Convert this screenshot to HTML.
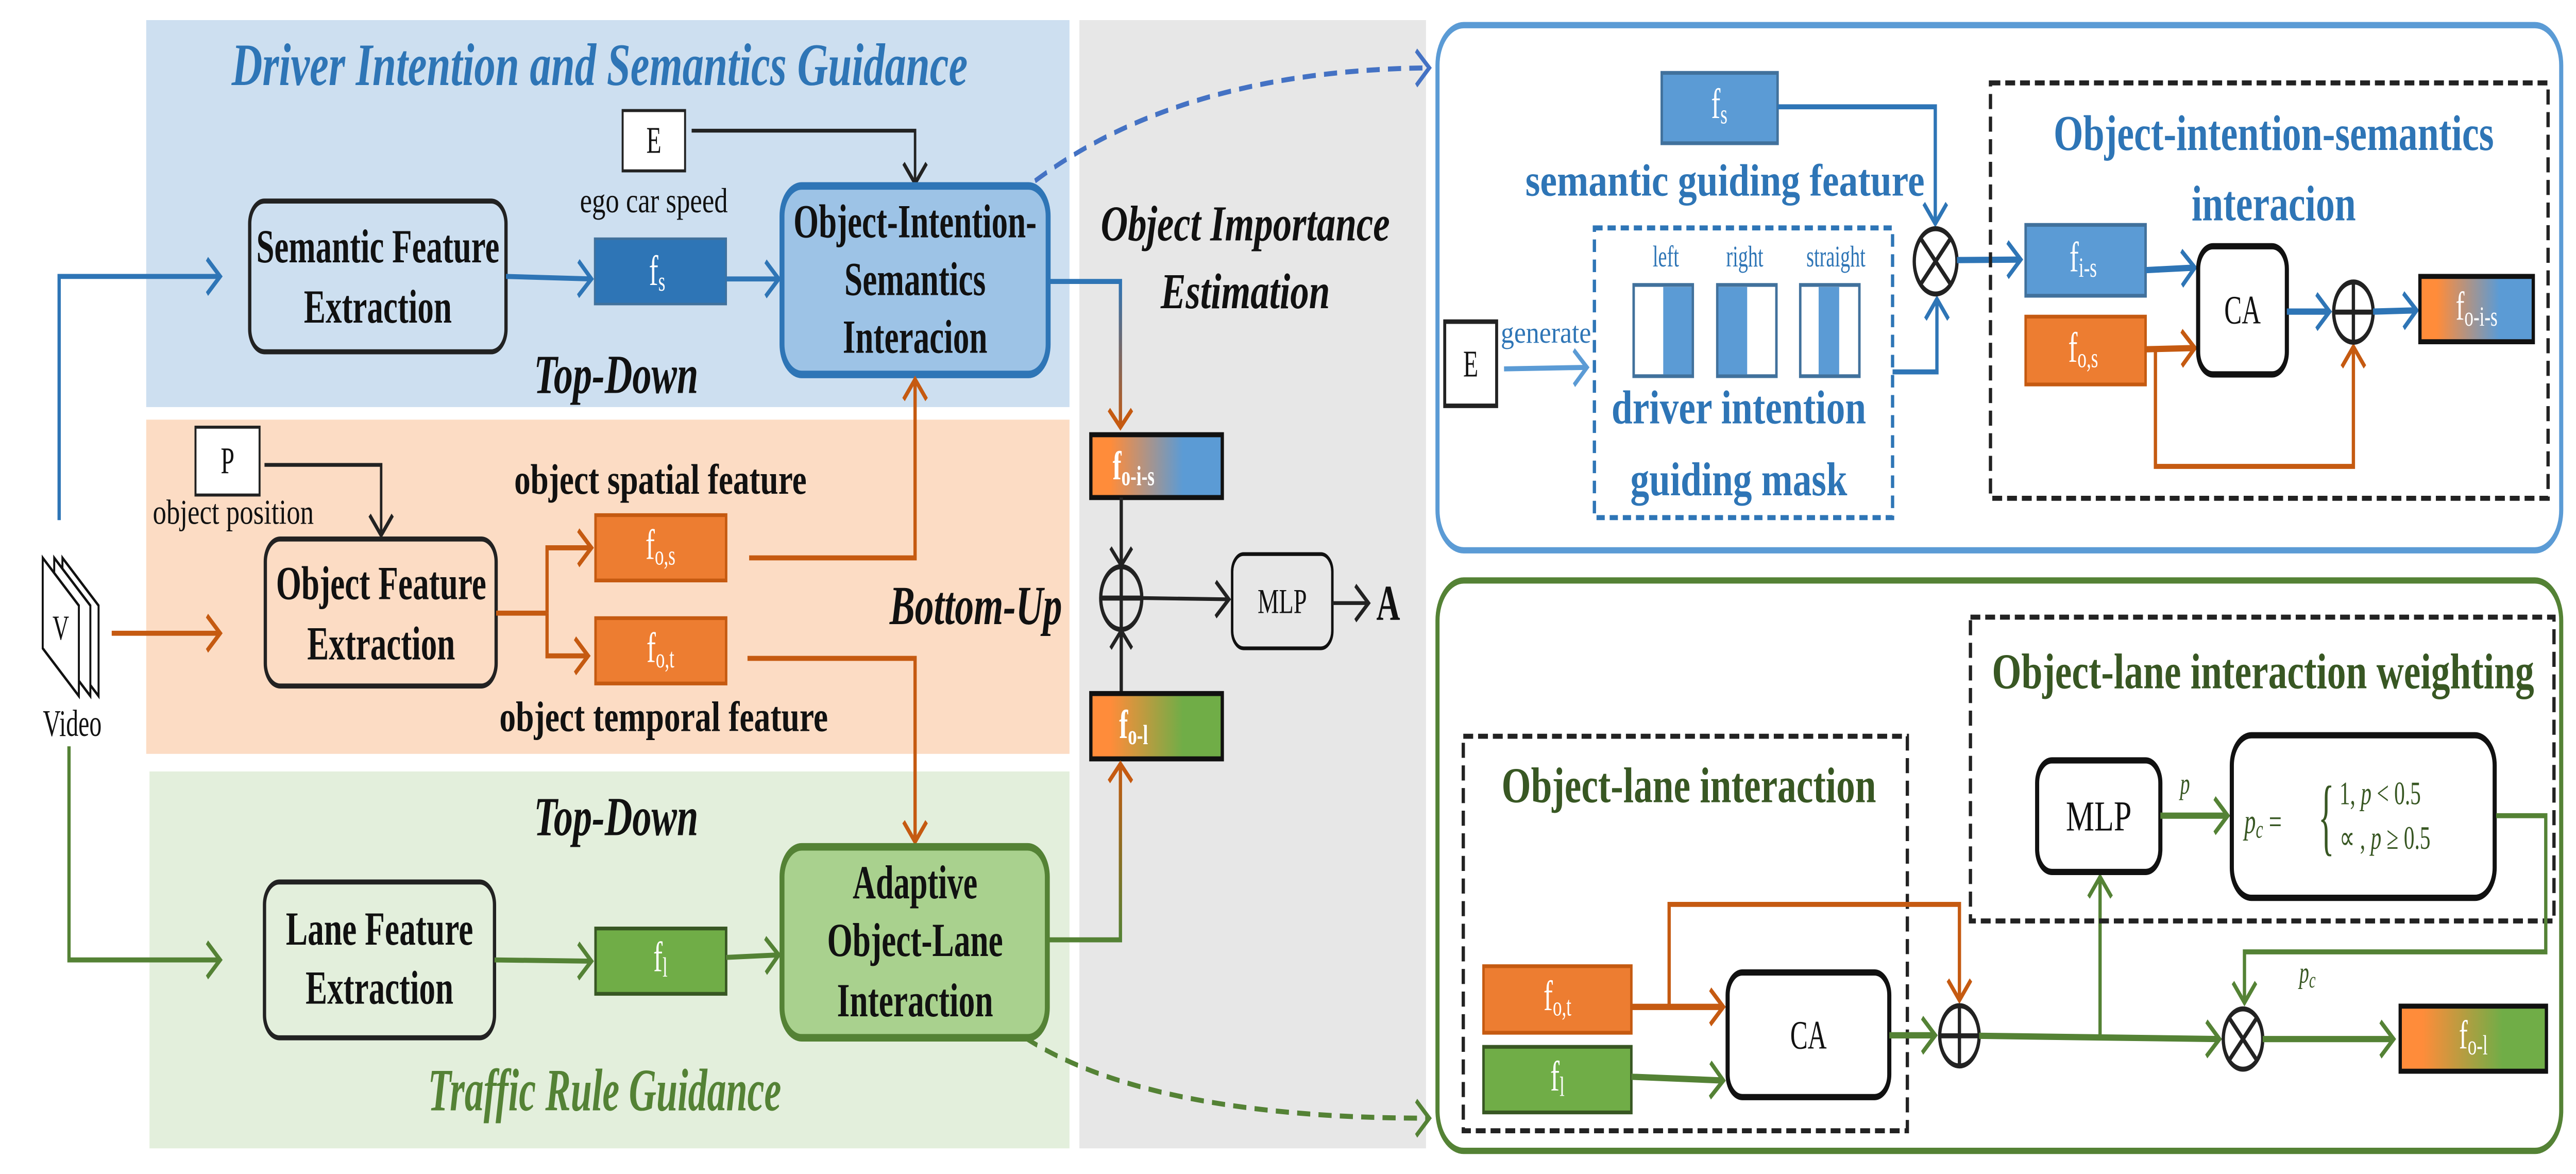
<!DOCTYPE html>
<html><head><meta charset="utf-8"><style>
html,body{margin:0;padding:0;background:#fff;width:100%;height:100%;overflow:hidden;}
svg{display:block;position:absolute;left:0;top:0;width:100vw;height:100vh;}
text{font-family:"Liberation Serif",serif;}
</style></head><body>
<svg viewBox="0 0 1568 467.2" preserveAspectRatio="none" xmlns="http://www.w3.org/2000/svg">
<defs>
<marker id="mb" markerUnits="userSpaceOnUse" markerWidth="14" markerHeight="16" refX="10" refY="8" orient="auto"><path d="M2,1 L10,8 L2,15" fill="none" stroke="#2e75b6" stroke-width="2"/></marker>
<marker id="mlb" markerUnits="userSpaceOnUse" markerWidth="14" markerHeight="16" refX="10" refY="8" orient="auto"><path d="M2,1 L10,8 L2,15" fill="none" stroke="#5b9bd5" stroke-width="2"/></marker>
<marker id="mdb" markerUnits="userSpaceOnUse" markerWidth="14" markerHeight="16" refX="10" refY="8" orient="auto"><path d="M2,1 L10,8 L2,15" fill="none" stroke="#4472c4" stroke-width="2"/></marker>
<marker id="mo" markerUnits="userSpaceOnUse" markerWidth="14" markerHeight="16" refX="10" refY="8" orient="auto"><path d="M2,1 L10,8 L2,15" fill="none" stroke="#c55a11" stroke-width="2"/></marker>
<marker id="mg" markerUnits="userSpaceOnUse" markerWidth="14" markerHeight="16" refX="10" refY="8" orient="auto"><path d="M2,1 L10,8 L2,15" fill="none" stroke="#548235" stroke-width="2"/></marker>
<marker id="mk" markerUnits="userSpaceOnUse" markerWidth="14" markerHeight="16" refX="10" refY="8" orient="auto"><path d="M2,1 L10,8 L2,15" fill="none" stroke="#222" stroke-width="1.8"/></marker>
<linearGradient id="gois" x1="0" x2="1" y1="0" y2="0"><stop offset="0.15" stop-color="#ff8c3a"/><stop offset="0.7" stop-color="#5b9bd5"/></linearGradient>
<linearGradient id="gol" x1="0" x2="1" y1="0" y2="0"><stop offset="0.15" stop-color="#ff8c3a"/><stop offset="0.7" stop-color="#70ad47"/></linearGradient>
<linearGradient id="gv1" x1="0" x2="0" y1="0" y2="1"><stop offset="0" stop-color="#2e75b6"/><stop offset="1" stop-color="#c55a11"/></linearGradient>
<linearGradient id="gv2" x1="0" x2="0" y1="1" y2="0"><stop offset="0" stop-color="#548235"/><stop offset="1" stop-color="#c55a11"/></linearGradient>
</defs>

<rect x="89" y="8" width="562" height="154" fill="#cddff0"/>
<rect x="89" y="167" width="562" height="133" fill="#fcdcc4"/>
<rect x="91" y="307" width="560" height="150" fill="#e3efdc"/>
<rect x="657" y="8" width="211" height="449" fill="#e7e7e7"/>

<text x="365" y="26" text-anchor="middle" dominant-baseline="central" font-size="24" font-style="italic" font-weight="bold" fill="#2e75b6" textLength="448" lengthAdjust="spacingAndGlyphs">Driver Intention and Semantics Guidance</text>
<text x="375" y="149" text-anchor="middle" dominant-baseline="central" font-size="22" font-style="italic" font-weight="bold" fill="#111" textLength="100" lengthAdjust="spacingAndGlyphs">Top-Down</text>
<text x="594" y="241" text-anchor="middle" dominant-baseline="central" font-size="22" font-style="italic" font-weight="bold" fill="#111" textLength="105" lengthAdjust="spacingAndGlyphs">Bottom-Up</text>
<text x="375" y="325" text-anchor="middle" dominant-baseline="central" font-size="22" font-style="italic" font-weight="bold" fill="#111" textLength="100" lengthAdjust="spacingAndGlyphs">Top-Down</text>
<text x="368" y="434" text-anchor="middle" dominant-baseline="central" font-size="24" font-style="italic" font-weight="bold" fill="#548235" textLength="215" lengthAdjust="spacingAndGlyphs">Traffic Rule Guidance</text>

<g fill="#fff" stroke="#111" stroke-width="1.2">
<path d="M38,222 L60,241 L60,277 L38,258 Z"/>
<path d="M33,222 L55,241 L55,277 L33,258 Z"/>
<path d="M26,222 L48,241 L48,277 L26,258 Z"/>
</g>
<text x="37" y="250" text-anchor="middle" dominant-baseline="central" font-size="14" fill="#111">V</text>
<text x="44" y="288" text-anchor="middle" dominant-baseline="central" font-size="15" fill="#111">Video</text>

<polyline points="36,207 36,110 134,110" fill="none" stroke="#2e75b6" stroke-width="2" marker-end="url(#mb)"/>
<line x1="68" y1="252" x2="134" y2="252" stroke="#c55a11" stroke-width="2" marker-end="url(#mo)"/>
<polyline points="42,297 42,382 134,382" fill="none" stroke="#548235" stroke-width="2" marker-end="url(#mg)"/>

<rect x="152" y="80" width="156" height="60" rx="9" fill="#cddff0" stroke="#222" stroke-width="2"/>
<text x="230" y="98" text-anchor="middle" dominant-baseline="central" font-size="19" font-weight="bold" fill="#111" textLength="148" lengthAdjust="spacingAndGlyphs">Semantic Feature</text>
<text x="230" y="122" text-anchor="middle" dominant-baseline="central" font-size="19" font-weight="bold" fill="#111" textLength="90" lengthAdjust="spacingAndGlyphs">Extraction</text>
<line x1="308" y1="110" x2="360" y2="111" stroke="#2e75b6" stroke-width="2" marker-end="url(#mb)"/>

<rect x="379" y="44" width="38" height="24" fill="#fff" stroke="#222" stroke-width="1.2"/>
<text x="398" y="56" text-anchor="middle" dominant-baseline="central" font-size="15" fill="#111">E</text>
<text x="398" y="80" text-anchor="middle" dominant-baseline="central" font-size="14" fill="#111" textLength="90" lengthAdjust="spacingAndGlyphs">ego car speed</text>
<polyline points="421,52 557,52 557,73" fill="none" stroke="#222" stroke-width="1.5" marker-end="url(#mk)"/>

<rect x="362" y="95" width="80" height="26" fill="#2e75b6" stroke="#41719c" stroke-width="1"/>
<text x="400" y="108" text-anchor="middle" dominant-baseline="central" font-size="17" fill="#fff">f<tspan font-size="11" dy="4">s</tspan></text>
<line x1="442" y1="111" x2="474" y2="111" stroke="#2e75b6" stroke-width="2" marker-end="url(#mb)"/>

<rect x="476" y="74" width="162" height="75" rx="12" fill="#9dc3e6" stroke="#2e75b6" stroke-width="3"/>
<text x="557" y="88" text-anchor="middle" dominant-baseline="central" font-size="19" font-weight="bold" fill="#111" textLength="148" lengthAdjust="spacingAndGlyphs">Object-Intention-</text>
<text x="557" y="111" text-anchor="middle" dominant-baseline="central" font-size="19" font-weight="bold" fill="#111" textLength="86" lengthAdjust="spacingAndGlyphs">Semantics</text>
<text x="557" y="134" text-anchor="middle" dominant-baseline="central" font-size="19" font-weight="bold" fill="#111" textLength="88" lengthAdjust="spacingAndGlyphs">Interacion</text>

<rect x="119" y="170" width="39" height="27" fill="#fff" stroke="#222" stroke-width="1.2"/>
<text x="138.5" y="183.5" text-anchor="middle" dominant-baseline="central" font-size="15" fill="#111">P</text>
<text x="142" y="204" text-anchor="middle" dominant-baseline="central" font-size="14" fill="#111" textLength="98" lengthAdjust="spacingAndGlyphs">object position</text>
<polyline points="161,185 232,185 232,213" fill="none" stroke="#222" stroke-width="1.5" marker-end="url(#mk)"/>

<rect x="161.5" y="214.5" width="140.5" height="58.5" rx="9" fill="#fcdcc4" stroke="#222" stroke-width="2"/>
<text x="232" y="232" text-anchor="middle" dominant-baseline="central" font-size="19" font-weight="bold" fill="#111" textLength="128" lengthAdjust="spacingAndGlyphs">Object Feature</text>
<text x="232" y="256" text-anchor="middle" dominant-baseline="central" font-size="19" font-weight="bold" fill="#111" textLength="90" lengthAdjust="spacingAndGlyphs">Extraction</text>
<polyline points="302,244 333,244" fill="none" stroke="#c55a11" stroke-width="2"/>
<polyline points="333,244 333,218 360,218" fill="none" stroke="#c55a11" stroke-width="2" marker-end="url(#mo)"/>
<polyline points="333,244 333,261 358,261" fill="none" stroke="#c55a11" stroke-width="2" marker-end="url(#mo)"/>

<text x="402" y="191" text-anchor="middle" dominant-baseline="central" font-size="17" font-weight="bold" fill="#111" textLength="178" lengthAdjust="spacingAndGlyphs">object spatial feature</text>
<text x="404" y="285.5" text-anchor="middle" dominant-baseline="central" font-size="17" font-weight="bold" fill="#111" textLength="200" lengthAdjust="spacingAndGlyphs">object temporal feature</text>

<rect x="362.5" y="205" width="79.5" height="26" fill="#ed7d31" stroke="#c55a11" stroke-width="1.5"/>
<text x="402" y="217" text-anchor="middle" dominant-baseline="central" font-size="17" fill="#fff">f<tspan font-size="11" dy="4">o,s</tspan></text>
<rect x="362.5" y="246" width="79.5" height="26" fill="#ed7d31" stroke="#c55a11" stroke-width="1.5"/>
<text x="402" y="258" text-anchor="middle" dominant-baseline="central" font-size="17" fill="#fff">f<tspan font-size="11" dy="4">o,t</tspan></text>

<polyline points="456,222 557,222 557,151" fill="none" stroke="#c55a11" stroke-width="2" marker-end="url(#mo)"/>
<polyline points="455,262 557,262 557,335" fill="none" stroke="#c55a11" stroke-width="2" marker-end="url(#mo)"/>

<rect x="161" y="351" width="140" height="62" rx="9" fill="#e3efdc" stroke="#222" stroke-width="2"/>
<text x="231" y="369.5" text-anchor="middle" dominant-baseline="central" font-size="19" font-weight="bold" fill="#111" textLength="114" lengthAdjust="spacingAndGlyphs">Lane Feature</text>
<text x="231" y="393" text-anchor="middle" dominant-baseline="central" font-size="19" font-weight="bold" fill="#111" textLength="90" lengthAdjust="spacingAndGlyphs">Extraction</text>
<line x1="301" y1="382" x2="360" y2="382.5" stroke="#548235" stroke-width="2" marker-end="url(#mg)"/>
<rect x="362.5" y="369.5" width="79.5" height="26" fill="#70ad47" stroke="#385723" stroke-width="1.5"/>
<text x="402" y="381" text-anchor="middle" dominant-baseline="central" font-size="17" fill="#fff">f<tspan font-size="11" dy="4">l</tspan></text>
<line x1="442" y1="381" x2="474" y2="380" stroke="#548235" stroke-width="2" marker-end="url(#mg)"/>

<rect x="476" y="337" width="161.5" height="76" rx="12" fill="#a9d18e" stroke="#548235" stroke-width="3"/>
<text x="557" y="351" text-anchor="middle" dominant-baseline="central" font-size="19" font-weight="bold" fill="#111" textLength="76" lengthAdjust="spacingAndGlyphs">Adaptive</text>
<text x="557" y="374" text-anchor="middle" dominant-baseline="central" font-size="19" font-weight="bold" fill="#111" textLength="107" lengthAdjust="spacingAndGlyphs">Object-Lane</text>
<text x="557" y="398" text-anchor="middle" dominant-baseline="central" font-size="19" font-weight="bold" fill="#111" textLength="95" lengthAdjust="spacingAndGlyphs">Interaction</text>

<text x="758" y="89" text-anchor="middle" dominant-baseline="central" font-size="20" font-style="italic" font-weight="bold" fill="#111" textLength="176" lengthAdjust="spacingAndGlyphs">Object Importance</text>
<text x="758" y="116" text-anchor="middle" dominant-baseline="central" font-size="20" font-style="italic" font-weight="bold" fill="#111" textLength="103" lengthAdjust="spacingAndGlyphs">Estimation</text>

<polyline points="638,112 682,112 682,170" fill="none" stroke="url(#gv1)" stroke-width="2"/>
<path d="M675,163 L682,170 L689,163" fill="none" stroke="#c55a11" stroke-width="2"/>
<rect x="664" y="173" width="80" height="25" fill="url(#gois)" stroke="#111" stroke-width="2"/>
<text x="690" y="185.5" text-anchor="middle" dominant-baseline="central" font-size="16" font-weight="bold" fill="#fff">f<tspan font-size="11" dy="4">o-i-s</tspan></text>
<line x1="682.5" y1="198" x2="682.5" y2="224" stroke="#222" stroke-width="2"/>
<path d="M676,218 L682.5,225 L689,218" fill="none" stroke="#222" stroke-width="1.8"/>
<circle cx="682.5" cy="238" r="12.5" fill="none" stroke="#222" stroke-width="2"/>
<line x1="670" y1="238" x2="695" y2="238" stroke="#222" stroke-width="2"/>
<line x1="682.5" y1="225.5" x2="682.5" y2="276" stroke="#222" stroke-width="2"/>
<path d="M676,258 L682.5,251 L689,258" fill="none" stroke="#222" stroke-width="1.8"/>
<rect x="664" y="276" width="80" height="26" fill="url(#gol)" stroke="#111" stroke-width="2"/>
<text x="690" y="288.5" text-anchor="middle" dominant-baseline="central" font-size="16" font-weight="bold" fill="#fff">f<tspan font-size="11" dy="4">o-l</tspan></text>
<polyline points="638,374 682,374 682,304" fill="none" stroke="url(#gv2)" stroke-width="2"/>
<path d="M675,311 L682,304 L689,311" fill="none" stroke="#c55a11" stroke-width="2"/>
<line x1="695" y1="238" x2="748" y2="238.5" stroke="#222" stroke-width="1.5" marker-end="url(#mk)"/>
<rect x="750" y="220.5" width="61" height="37.5" rx="7" fill="#e7e7e7" stroke="#111" stroke-width="1.5"/>
<text x="780.5" y="239.5" text-anchor="middle" dominant-baseline="central" font-size="14" fill="#111" textLength="30" lengthAdjust="spacingAndGlyphs">MLP</text>
<line x1="811" y1="240" x2="833" y2="240" stroke="#222" stroke-width="1.5" marker-end="url(#mk)"/>
<text x="845" y="240" text-anchor="middle" dominant-baseline="central" font-size="20" font-weight="bold" fill="#111">A</text>

<path d="M630,72 Q720,28 870,27" fill="none" stroke="#4472c4" stroke-width="2" stroke-dasharray="8,5" marker-end="url(#mdb)"/>
<path d="M624,413 Q700,445 870,445" fill="none" stroke="#548235" stroke-width="2" stroke-dasharray="8,5" marker-end="url(#mg)"/>

<rect x="875" y="10" width="684" height="209" rx="16" fill="#fff" stroke="#5b9bd5" stroke-width="2.5"/>
<rect x="1011.5" y="29" width="70.5" height="28" fill="#5b9bd5" stroke="#41719c" stroke-width="1.5"/>
<text x="1046.5" y="41.5" text-anchor="middle" dominant-baseline="central" font-size="17" fill="#fff">f<tspan font-size="11" dy="4">s</tspan></text>
<polyline points="1082,42.5 1178,42.5 1178,89" fill="none" stroke="#2e75b6" stroke-width="2" marker-end="url(#mb)"/>
<text x="1050" y="72" text-anchor="middle" dominant-baseline="central" font-size="18" font-weight="bold" fill="#2e75b6" textLength="243" lengthAdjust="spacingAndGlyphs">semantic guiding feature</text>
<rect x="970.5" y="90.7" width="181.5" height="115.3" fill="none" stroke="#2e75b6" stroke-width="2" stroke-dasharray="5,3"/>
<text x="1014" y="102" text-anchor="middle" dominant-baseline="central" font-size="12" fill="#2e75b6">left</text>
<text x="1062" y="102" text-anchor="middle" dominant-baseline="central" font-size="12" fill="#2e75b6">right</text>
<text x="1117.5" y="102" text-anchor="middle" dominant-baseline="central" font-size="12" fill="#2e75b6">straight</text>
<g stroke="#41719c" stroke-width="1.5">
<rect x="994.4" y="113.4" width="36" height="36.3" fill="#fff"/>
<rect x="1045.3" y="113.4" width="36" height="36.3" fill="#fff"/>
<rect x="1095.8" y="113.4" width="36" height="36.3" fill="#fff"/>
</g>
<rect x="1012.4" y="114.2" width="17.3" height="34.8" fill="#5b9bd5"/>
<rect x="1046" y="114.2" width="17.5" height="34.8" fill="#5b9bd5"/>
<rect x="1107" y="114.2" width="12.5" height="34.8" fill="#5b9bd5"/>
<text x="1058.4" y="162" text-anchor="middle" dominant-baseline="central" font-size="19" font-weight="bold" fill="#2e75b6" textLength="155" lengthAdjust="spacingAndGlyphs">driver intention</text>
<text x="1058.4" y="190.7" text-anchor="middle" dominant-baseline="central" font-size="19" font-weight="bold" fill="#2e75b6" textLength="132" lengthAdjust="spacingAndGlyphs">guiding mask</text>
<rect x="879.4" y="128" width="31.6" height="33.5" fill="#fff" stroke="#222" stroke-width="1.8"/>
<text x="895.2" y="145" text-anchor="middle" dominant-baseline="central" font-size="15" fill="#111">E</text>
<text x="941" y="132.4" text-anchor="middle" dominant-baseline="central" font-size="12" fill="#2e75b6" textLength="55" lengthAdjust="spacingAndGlyphs">generate</text>
<line x1="915.5" y1="146.8" x2="966" y2="146.2" stroke="#5b9bd5" stroke-width="2" marker-end="url(#mlb)"/>
<polyline points="1152,148 1179,148 1179,119" fill="none" stroke="#2e75b6" stroke-width="2" marker-end="url(#mb)"/>
<circle cx="1178.2" cy="104" r="13" fill="#fff" stroke="#222" stroke-width="2"/>
<line x1="1169" y1="94.8" x2="1187.4" y2="113.2" stroke="#222" stroke-width="2"/>
<line x1="1187.4" y1="94.8" x2="1169" y2="113.2" stroke="#222" stroke-width="2"/>
<line x1="1191.2" y1="103.5" x2="1230" y2="103.3" stroke="#2e75b6" stroke-width="2.5" marker-end="url(#mb)"/>
<rect x="1211.6" y="33" width="339.4" height="165.3" fill="none" stroke="#222" stroke-width="2" stroke-dasharray="6,3"/>
<text x="1384" y="53" text-anchor="middle" dominant-baseline="central" font-size="20" font-weight="bold" fill="#2e75b6" textLength="268" lengthAdjust="spacingAndGlyphs">Object-intention-semantics</text>
<text x="1384" y="81" text-anchor="middle" dominant-baseline="central" font-size="20" font-weight="bold" fill="#2e75b6" textLength="100" lengthAdjust="spacingAndGlyphs">interacion</text>
<rect x="1233" y="89.5" width="73" height="28.2" fill="#5b9bd5" stroke="#41719c" stroke-width="1.5"/>
<text x="1268" y="102.5" text-anchor="middle" dominant-baseline="central" font-size="17" fill="#fff">f<tspan font-size="11" dy="4">i-s</tspan></text>
<rect x="1233" y="126" width="73" height="27" fill="#ed7d31" stroke="#c55a11" stroke-width="1.5"/>
<text x="1268" y="138.5" text-anchor="middle" dominant-baseline="central" font-size="17" fill="#fff">f<tspan font-size="11" dy="4">o,s</tspan></text>
<line x1="1306" y1="107.5" x2="1336" y2="106.5" stroke="#2e75b6" stroke-width="2.5" marker-end="url(#mb)"/>
<line x1="1306" y1="139" x2="1336" y2="138.5" stroke="#c55a11" stroke-width="2.5" marker-end="url(#mo)"/>
<polyline points="1312,139 1312,185.6 1432.5,185.6 1432.5,138" fill="none" stroke="#c55a11" stroke-width="2" marker-end="url(#mo)"/>
<rect x="1338" y="98" width="54" height="51" rx="9" fill="#fff" stroke="#111" stroke-width="2.5"/>
<text x="1365" y="123.5" text-anchor="middle" dominant-baseline="central" font-size="16" fill="#111">CA</text>
<line x1="1392" y1="124" x2="1418" y2="124" stroke="#2e75b6" stroke-width="2.5" marker-end="url(#mb)"/>
<circle cx="1432.5" cy="124.2" r="12" fill="#fff" stroke="#222" stroke-width="2"/>
<line x1="1420.5" y1="124.2" x2="1444.5" y2="124.2" stroke="#222" stroke-width="2"/>
<line x1="1432.5" y1="112.2" x2="1432.5" y2="136.2" stroke="#222" stroke-width="2"/>
<line x1="1444.5" y1="124" x2="1471" y2="123.5" stroke="#2e75b6" stroke-width="2.5" marker-end="url(#mb)"/>
<rect x="1473" y="110" width="69" height="26" fill="url(#gois)" stroke="#111" stroke-width="2"/>
<text x="1507.5" y="122" text-anchor="middle" dominant-baseline="central" font-size="16" fill="#fff">f<tspan font-size="11" dy="4">o-i-s</tspan></text>

<rect x="875" y="231" width="684" height="227" rx="16" fill="#fff" stroke="#548235" stroke-width="2.5"/>
<rect x="890.7" y="293" width="270.3" height="157" fill="none" stroke="#222" stroke-width="2" stroke-dasharray="6,3"/>
<text x="1028" y="312.6" text-anchor="middle" dominant-baseline="central" font-size="20" font-weight="bold" fill="#385723" textLength="228" lengthAdjust="spacingAndGlyphs">Object-lane interaction</text>
<rect x="903" y="384.5" width="90" height="26.5" fill="#ed7d31" stroke="#c55a11" stroke-width="1.5"/>
<text x="948" y="396.5" text-anchor="middle" dominant-baseline="central" font-size="17" fill="#fff">f<tspan font-size="11" dy="4">o,t</tspan></text>
<rect x="903" y="416.6" width="90" height="26.1" fill="#70ad47" stroke="#385723" stroke-width="1.5"/>
<text x="948" y="428.5" text-anchor="middle" dominant-baseline="central" font-size="17" fill="#fff">f<tspan font-size="11" dy="4">l</tspan></text>
<line x1="993" y1="400.7" x2="1049" y2="400.7" stroke="#c55a11" stroke-width="2.5" marker-end="url(#mo)"/>
<polyline points="1016,400.7 1016,359.9 1192.7,359.9 1192.7,398" fill="none" stroke="#c55a11" stroke-width="2" marker-end="url(#mo)"/>
<line x1="993" y1="428.5" x2="1049" y2="430" stroke="#548235" stroke-width="2.5" marker-end="url(#mg)"/>
<rect x="1051.6" y="387" width="98.4" height="49.6" rx="9" fill="#fff" stroke="#111" stroke-width="2.5"/>
<text x="1100.8" y="412" text-anchor="middle" dominant-baseline="central" font-size="16" fill="#111">CA</text>
<line x1="1150" y1="412" x2="1178" y2="412" stroke="#548235" stroke-width="2.5" marker-end="url(#mg)"/>
<circle cx="1192.7" cy="412.2" r="12" fill="#fff" stroke="#222" stroke-width="2"/>
<line x1="1180.7" y1="412.2" x2="1204.7" y2="412.2" stroke="#222" stroke-width="2"/>
<line x1="1192.7" y1="400.2" x2="1192.7" y2="424.2" stroke="#222" stroke-width="2"/>
<line x1="1204.7" y1="412.2" x2="1351" y2="413.5" stroke="#548235" stroke-width="2.5" marker-end="url(#mg)"/>
<polyline points="1278.3,413 1278.3,349" fill="none" stroke="#548235" stroke-width="2" marker-end="url(#mg)"/>
<rect x="1199.4" y="245.6" width="355.2" height="120.9" fill="none" stroke="#222" stroke-width="2" stroke-dasharray="6,3"/>
<text x="1377.5" y="267.2" text-anchor="middle" dominant-baseline="central" font-size="20" font-weight="bold" fill="#385723" textLength="330" lengthAdjust="spacingAndGlyphs">Object-lane interaction weighting</text>
<rect x="1240" y="302.6" width="75" height="44.4" rx="9" fill="#fff" stroke="#111" stroke-width="2.5"/>
<text x="1277.5" y="325" text-anchor="middle" dominant-baseline="central" font-size="17" fill="#111" textLength="40" lengthAdjust="spacingAndGlyphs">MLP</text>
<text x="1330" y="311.8" text-anchor="middle" dominant-baseline="central" font-size="12" font-style="italic" fill="#385723">p</text>
<line x1="1315" y1="324.6" x2="1356" y2="324.6" stroke="#548235" stroke-width="2.5" marker-end="url(#mg)"/>
<rect x="1358.5" y="292.6" width="160" height="64.7" rx="12" fill="#fff" stroke="#111" stroke-width="2.5"/>
<text x="1377.5" y="327" text-anchor="middle" dominant-baseline="central" font-size="14" font-style="italic" fill="#385723">p<tspan font-size="10" dy="3">c</tspan><tspan dy="-3" font-style="normal"> =</tspan></text>
<text x="1416" y="325" text-anchor="middle" dominant-baseline="central" font-size="34" fill="#385723" transform="translate(1416 325) scale(0.6 1) translate(-1416 -325)">{</text>
<text x="1424" y="315.7" dominant-baseline="central" font-size="13" fill="#385723">1, <tspan font-style="italic">p</tspan> &lt; 0.5</text>
<text x="1424" y="333.4" dominant-baseline="central" font-size="13" fill="#385723">∝ , <tspan font-style="italic">p</tspan> ≥ 0.5</text>
<polyline points="1519.4,324.6 1549.6,324.6 1549.6,378.8 1366.2,378.8 1366.2,399" fill="none" stroke="#548235" stroke-width="2" marker-end="url(#mg)"/>
<text x="1404.5" y="387" text-anchor="middle" dominant-baseline="central" font-size="12" font-style="italic" fill="#385723">p<tspan font-size="9" dy="3">c</tspan></text>
<circle cx="1365.3" cy="413.5" r="12" fill="#fff" stroke="#222" stroke-width="2"/>
<line x1="1356.8" y1="405" x2="1373.8" y2="422" stroke="#222" stroke-width="2"/>
<line x1="1373.8" y1="405" x2="1356.8" y2="422" stroke="#222" stroke-width="2"/>
<line x1="1377.3" y1="413.5" x2="1457" y2="413.5" stroke="#548235" stroke-width="2.5" marker-end="url(#mg)"/>
<rect x="1461" y="400.4" width="89" height="25.9" fill="url(#gol)" stroke="#111" stroke-width="2"/>
<text x="1505.5" y="412" text-anchor="middle" dominant-baseline="central" font-size="16" fill="#fff">f<tspan font-size="11" dy="4">o-l</tspan></text>
</svg>
</body></html>
